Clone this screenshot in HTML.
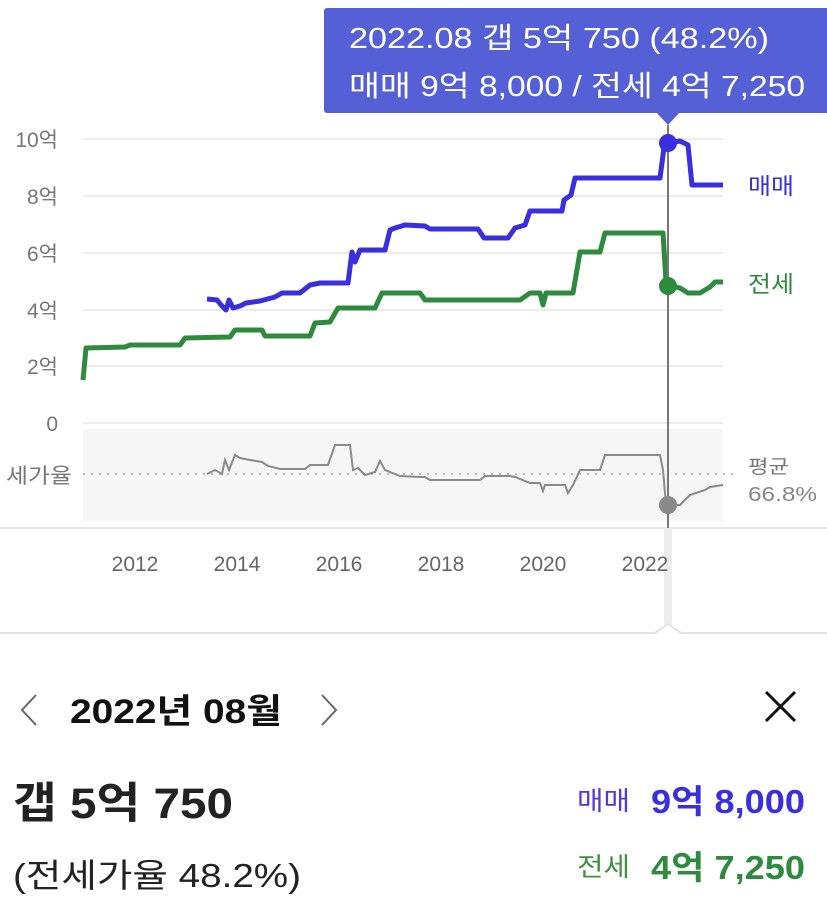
<!DOCTYPE html>
<html><head><meta charset="utf-8"><style>
html,body{margin:0;padding:0;background:#fff;width:827px;height:917px;overflow:hidden}
svg{display:block}
text{font-family:"Liberation Sans","Noto Sans CJK KR",sans-serif}
</style></head><body>
<svg width="827" height="917" viewBox="0 0 827 917" xmlns="http://www.w3.org/2000/svg">
<rect x="83" y="429" width="640" height="92" fill="#f6f6f6"/>
<g stroke="#e6e6e6" stroke-width="1.5">
<line x1="83" y1="139" x2="723" y2="139"/><line x1="83" y1="196" x2="723" y2="196"/>
<line x1="83" y1="253" x2="723" y2="253"/><line x1="83" y1="310" x2="723" y2="310"/>
<line x1="83" y1="366" x2="723" y2="366"/><line x1="83" y1="423" x2="723" y2="423"/>
</g>
<line x1="83" y1="474" x2="735" y2="474" stroke="#bbb" stroke-width="2" stroke-dasharray="2,6"/>
<g font-size="21" fill="#777" text-anchor="end">
<text x="58" y="147">10억</text><text x="58" y="204">8억</text><text x="58" y="261">6억</text>
<text x="58" y="318">4억</text><text x="58" y="374">2억</text><text x="58" y="431">0</text>
<text x="72" y="483" textLength="66" lengthAdjust="spacingAndGlyphs">세가율</text>
</g>
<line x1="0" y1="528" x2="827" y2="528" stroke="#e6e6e6" stroke-width="2"/>
<rect x="664" y="528" width="8" height="97" fill="#ececec"/>
<path d="M0 633 L655 633 L668 624 L681 633 L827 633" fill="none" stroke="#e3e3e3" stroke-width="2"/>
<g font-size="21" fill="#666" text-anchor="middle">
<text x="135" y="571">2012</text><text x="237" y="571">2014</text><text x="339" y="571">2016</text>
<text x="441" y="571">2018</text><text x="543" y="571">2020</text><text x="645" y="571">2022</text>
</g>
<polyline fill="none" stroke="#8a8a8a" stroke-width="2" points="207,474 215,470 222,474 225,460 229,470 235,455 240,458 250,460 262,462 268,466 280,469 305,469 310,465 328,465 335,445 350,445 353,470 358,468 365,475 375,472 380,461 385,470 400,476 420,477 425,477 430,480 480,480 485,476 510,476 515,477 530,483 540,483 543,491 545,485 565,485 568,493 573,485 580,470 600,470 605,455 660,455 663,470 666,505 680,505 690,495 705,490 710,487 723,485"/>
<polyline fill="none" stroke="#2e8b3e" stroke-width="5" stroke-linejoin="round" points="83,380 86,348 125,347 130,345 180,345 185,338 230,337 235,330 262,330 265,336 310,336 315,323 330,322 338,308 375,308 382,293 420,293 425,300 520,300 530,293 540,293 543,305 546,293 573,293 580,252 600,252 605,233 663,233 666,282 668,285 680,288 688,293 700,293 710,287 715,282 723,282"/>
<polyline fill="none" stroke="#3a2fdc" stroke-width="5" stroke-linejoin="round" points="207,299 217,300 222,306 226,310 229,300 233,308 240,306 246,303 260,301 275,297 282,293 300,293 310,285 320,283 348,283 352,252 355,262 360,250 385,250 390,230 395,228 405,225 425,226 430,229 478,229 484,238 508,238 515,228 525,225 530,211 562,211 564,200 571,195 575,178 660,178 665,140 668,143 680,141 688,145 692,185 723,185"/>
<line x1="668" y1="125" x2="668" y2="528" stroke="#777" stroke-width="2"/>
<circle cx="668" cy="143" r="9" fill="#3a2fdc"/>
<circle cx="668" cy="286" r="9" fill="#2e8b3e"/>
<circle cx="668" cy="505" r="9" fill="#8a8a8a"/>
<text x="748" y="194" font-size="23" fill="#3a2fdc" textLength="46" lengthAdjust="spacingAndGlyphs">매매</text>
<text x="748" y="292" font-size="23" fill="#2e8b3e" textLength="46" lengthAdjust="spacingAndGlyphs">전세</text>
<text x="748" y="473" font-size="19" fill="#777" textLength="41" lengthAdjust="spacingAndGlyphs">평균</text>
<text x="748" y="501" font-size="20" fill="#888" textLength="69" lengthAdjust="spacingAndGlyphs">66.8%</text>
<rect x="324" y="8" width="510" height="105" rx="3" fill="#5660d6"/>
<path d="M656 112 L680 112 L668 125 Z" fill="#5660d6"/>
<text x="349" y="48" font-size="29" fill="#fff" textLength="420" lengthAdjust="spacingAndGlyphs">2022.08  갭 5억 750 (48.2%)</text>
<text x="349" y="96" font-size="29" fill="#fff" textLength="456" lengthAdjust="spacingAndGlyphs">매매 9억 8,000 / 전세 4억 7,250</text>
<path d="M36 695 L22 710 L36 725" fill="none" stroke="#666" stroke-width="2"/>
<path d="M322 695 L336 710 L322 725" fill="none" stroke="#666" stroke-width="2"/>
<text x="70" y="723" font-size="34" font-weight="bold" fill="#111" textLength="212" lengthAdjust="spacingAndGlyphs">2022년 08월</text>
<path d="M766 692 L795 721 M795 692 L766 721" stroke="#111" stroke-width="3"/>
<text x="13" y="818" font-size="43" font-weight="bold" fill="#222" textLength="220" lengthAdjust="spacingAndGlyphs">갭 5억 750</text>
<text x="13" y="887" font-size="33" fill="#222" textLength="288" lengthAdjust="spacingAndGlyphs">(전세가율 48.2%)</text>
<text x="577" y="810" font-size="26" fill="#5536d8" textLength="53" lengthAdjust="spacingAndGlyphs">매매</text>
<text x="651" y="813" font-size="33" font-weight="bold" fill="#3a2fdc" textLength="154" lengthAdjust="spacingAndGlyphs">9억 8,000</text>
<text x="577" y="876" font-size="26" fill="#3f9140" textLength="53" lengthAdjust="spacingAndGlyphs">전세</text>
<text x="651" y="879" font-size="33" font-weight="bold" fill="#2e8b3e" textLength="154" lengthAdjust="spacingAndGlyphs">4억 7,250</text>
</svg>
</body></html>
